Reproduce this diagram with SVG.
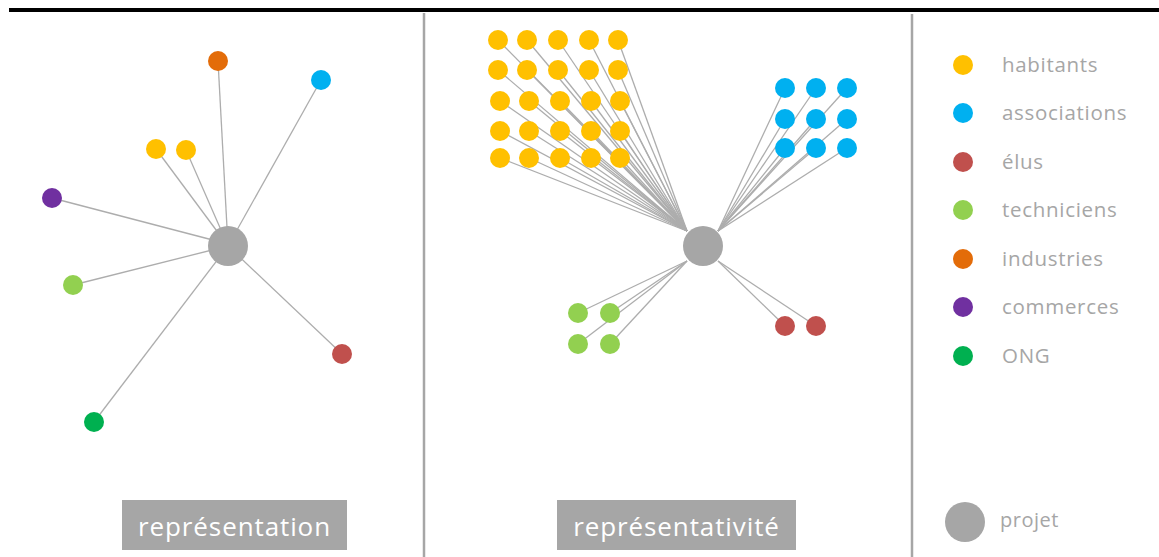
<svg xmlns="http://www.w3.org/2000/svg" width="1159" height="557" viewBox="0 0 1159 557">
<style>
.hab{fill:#FFC000}.ass{fill:#00B0F0}.elu{fill:#C0504D}.tec{fill:#92D050}.ind{fill:#E36C09}.com{fill:#7030A0}.ong{fill:#00B050}.prj{fill:#A6A6A6}
.edge{stroke:#ADADAD;stroke-width:1.3;fill:none}
.sep{stroke:#A6A6A6;stroke-width:2.5}
.leg{font-family:"Open Sans","Liberation Sans",sans-serif;font-size:20.5px;letter-spacing:0.7px;fill:#A6A6A6}
.lbl{font-family:"Open Sans","Liberation Sans",sans-serif;font-size:26px;letter-spacing:0.9px;fill:#FFFFFF;text-anchor:middle}
</style>
<rect x="9" y="8" width="1150" height="4" fill="#000"/>
<line class="sep" x1="424" y1="13" x2="424" y2="557"/>
<line class="sep" x1="912" y1="14" x2="912" y2="557"/>

<g id="connectors">
  <!-- left panel -->
  <line class="edge" x1="218" y1="61" x2="228" y2="246"/>
  <line class="edge" x1="321" y1="80" x2="228" y2="246"/>
  <line class="edge" x1="156" y1="149" x2="228" y2="246"/>
  <line class="edge" x1="186" y1="150" x2="228" y2="246"/>
  <line class="edge" x1="52" y1="198" x2="228" y2="244"/>
  <line class="edge" x1="73" y1="285" x2="228" y2="246"/>
  <line class="edge" x1="342" y1="354" x2="228" y2="246"/>
  <line class="edge" x1="94" y1="422" x2="228" y2="246"/>
  <!-- middle panel: habitants -->
  <g>
    <line class="edge" x1="498" y1="40" x2="687" y2="231"/>
    <line class="edge" x1="527" y1="40" x2="687" y2="231"/>
    <line class="edge" x1="558" y1="40" x2="687" y2="231"/>
    <line class="edge" x1="589" y1="40" x2="687" y2="231"/>
    <line class="edge" x1="618" y1="40" x2="687" y2="231"/>
    <line class="edge" x1="498" y1="70" x2="687" y2="231"/>
    <line class="edge" x1="527" y1="70" x2="687" y2="231"/>
    <line class="edge" x1="558" y1="70" x2="687" y2="231"/>
    <line class="edge" x1="589" y1="70" x2="687" y2="231"/>
    <line class="edge" x1="618" y1="70" x2="687" y2="231"/>
    <line class="edge" x1="500" y1="101" x2="687" y2="231"/>
    <line class="edge" x1="529" y1="101" x2="687" y2="231"/>
    <line class="edge" x1="560" y1="101" x2="687" y2="231"/>
    <line class="edge" x1="591" y1="101" x2="687" y2="231"/>
    <line class="edge" x1="620" y1="101" x2="687" y2="231"/>
    <line class="edge" x1="500" y1="131" x2="687" y2="231"/>
    <line class="edge" x1="529" y1="131" x2="687" y2="231"/>
    <line class="edge" x1="560" y1="131" x2="687" y2="231"/>
    <line class="edge" x1="591" y1="131" x2="687" y2="231"/>
    <line class="edge" x1="620" y1="131" x2="687" y2="231"/>
    <line class="edge" x1="500" y1="158" x2="687" y2="231"/>
    <line class="edge" x1="529" y1="158" x2="687" y2="231"/>
    <line class="edge" x1="560" y1="158" x2="687" y2="231"/>
    <line class="edge" x1="591" y1="158" x2="687" y2="231"/>
    <line class="edge" x1="620" y1="158" x2="687" y2="231"/>
  </g>
  <!-- associations -->
  <g>
    <line class="edge" x1="785" y1="88" x2="718" y2="231"/>
    <line class="edge" x1="816" y1="88" x2="718" y2="231"/>
    <line class="edge" x1="847" y1="88" x2="718" y2="231"/>
    <line class="edge" x1="785" y1="119" x2="718" y2="231"/>
    <line class="edge" x1="816" y1="119" x2="718" y2="231"/>
    <line class="edge" x1="847" y1="119" x2="718" y2="231"/>
    <line class="edge" x1="785" y1="148" x2="718" y2="231"/>
    <line class="edge" x1="816" y1="148" x2="718" y2="231"/>
    <line class="edge" x1="847" y1="148" x2="718" y2="231"/>
  </g>
  <!-- techniciens -->
  <line class="edge" x1="578" y1="313" x2="687" y2="261"/>
  <line class="edge" x1="610" y1="313" x2="687" y2="261"/>
  <line class="edge" x1="578" y1="344" x2="687" y2="261"/>
  <line class="edge" x1="610" y1="344" x2="687" y2="261"/>
  <!-- élus -->
  <line class="edge" x1="785" y1="326" x2="718" y2="261"/>
  <line class="edge" x1="816" y1="326" x2="718" y2="261"/>
</g>

<!-- left panel nodes -->
<g id="rep-projet"><circle class="prj" cx="228" cy="246" r="20"/></g>
<g id="rep-industries"><circle class="ind" cx="218" cy="61" r="10"/></g>
<g id="rep-associations"><circle class="ass" cx="321" cy="80" r="10"/></g>
<g id="rep-habitant-1"><circle class="hab" cx="156" cy="149" r="10"/></g>
<g id="rep-habitant-2"><circle class="hab" cx="186" cy="150" r="10"/></g>
<g id="rep-commerces"><circle class="com" cx="52" cy="198" r="10"/></g>
<g id="rep-techniciens"><circle class="tec" cx="73" cy="285" r="10"/></g>
<g id="rep-elus"><circle class="elu" cx="342" cy="354" r="10"/></g>
<g id="rep-ong"><circle class="ong" cx="94" cy="422" r="10"/></g>

<!-- middle panel nodes -->
<g id="rpt-projet"><circle class="prj" cx="703" cy="246" r="20"/></g>
<g id="rpt-habitants">
  <g id="hab-1-1"><circle class="hab" cx="498" cy="40" r="10"/></g>
  <g id="hab-1-2"><circle class="hab" cx="527" cy="40" r="10"/></g>
  <g id="hab-1-3"><circle class="hab" cx="558" cy="40" r="10"/></g>
  <g id="hab-1-4"><circle class="hab" cx="589" cy="40" r="10"/></g>
  <g id="hab-1-5"><circle class="hab" cx="618" cy="40" r="10"/></g>
  <g id="hab-2-1"><circle class="hab" cx="498" cy="70" r="10"/></g>
  <g id="hab-2-2"><circle class="hab" cx="527" cy="70" r="10"/></g>
  <g id="hab-2-3"><circle class="hab" cx="558" cy="70" r="10"/></g>
  <g id="hab-2-4"><circle class="hab" cx="589" cy="70" r="10"/></g>
  <g id="hab-2-5"><circle class="hab" cx="618" cy="70" r="10"/></g>
  <g id="hab-3-1"><circle class="hab" cx="500" cy="101" r="10"/></g>
  <g id="hab-3-2"><circle class="hab" cx="529" cy="101" r="10"/></g>
  <g id="hab-3-3"><circle class="hab" cx="560" cy="101" r="10"/></g>
  <g id="hab-3-4"><circle class="hab" cx="591" cy="101" r="10"/></g>
  <g id="hab-3-5"><circle class="hab" cx="620" cy="101" r="10"/></g>
  <g id="hab-4-1"><circle class="hab" cx="500" cy="131" r="10"/></g>
  <g id="hab-4-2"><circle class="hab" cx="529" cy="131" r="10"/></g>
  <g id="hab-4-3"><circle class="hab" cx="560" cy="131" r="10"/></g>
  <g id="hab-4-4"><circle class="hab" cx="591" cy="131" r="10"/></g>
  <g id="hab-4-5"><circle class="hab" cx="620" cy="131" r="10"/></g>
  <g id="hab-5-1"><circle class="hab" cx="500" cy="158" r="10"/></g>
  <g id="hab-5-2"><circle class="hab" cx="529" cy="158" r="10"/></g>
  <g id="hab-5-3"><circle class="hab" cx="560" cy="158" r="10"/></g>
  <g id="hab-5-4"><circle class="hab" cx="591" cy="158" r="10"/></g>
  <g id="hab-5-5"><circle class="hab" cx="620" cy="158" r="10"/></g>
</g>
<g id="rpt-associations">
  <g id="ass-1-1"><circle class="ass" cx="785" cy="88" r="10"/></g>
  <g id="ass-1-2"><circle class="ass" cx="816" cy="88" r="10"/></g>
  <g id="ass-1-3"><circle class="ass" cx="847" cy="88" r="10"/></g>
  <g id="ass-2-1"><circle class="ass" cx="785" cy="119" r="10"/></g>
  <g id="ass-2-2"><circle class="ass" cx="816" cy="119" r="10"/></g>
  <g id="ass-2-3"><circle class="ass" cx="847" cy="119" r="10"/></g>
  <g id="ass-3-1"><circle class="ass" cx="785" cy="148" r="10"/></g>
  <g id="ass-3-2"><circle class="ass" cx="816" cy="148" r="10"/></g>
  <g id="ass-3-3"><circle class="ass" cx="847" cy="148" r="10"/></g>
</g>
<g id="rpt-techniciens">
  <g id="tec-1"><circle class="tec" cx="578" cy="313" r="10"/></g>
  <g id="tec-2"><circle class="tec" cx="610" cy="313" r="10"/></g>
  <g id="tec-3"><circle class="tec" cx="578" cy="344" r="10"/></g>
  <g id="tec-4"><circle class="tec" cx="610" cy="344" r="10"/></g>
</g>
<g id="rpt-elus">
  <g id="elu-1"><circle class="elu" cx="785" cy="326" r="10"/></g>
  <g id="elu-2"><circle class="elu" cx="816" cy="326" r="10"/></g>
</g>

<!-- panel labels -->
<g id="label-representation">
  <rect x="122" y="500" width="225" height="50" fill="#A6A6A6"/>
  <text class="lbl" x="234.5" y="536">représentation</text>
</g>
<g id="label-representativite">
  <rect x="557" y="500" width="239" height="50" fill="#A6A6A6"/>
  <text class="lbl" x="676.5" y="536">représentativité</text>
</g>

<!-- legend -->
<g id="legend">
  <g id="leg-habitants"><circle class="hab" cx="963" cy="65" r="10"/><text class="leg" x="1002" y="72">habitants</text></g>
  <g id="leg-associations"><circle class="ass" cx="963" cy="113" r="10"/><text class="leg" x="1002" y="120">associations</text></g>
  <g id="leg-elus"><circle class="elu" cx="963" cy="162" r="10"/><text class="leg" x="1002" y="169">élus</text></g>
  <g id="leg-techniciens"><circle class="tec" cx="963" cy="210" r="10"/><text class="leg" x="1002" y="217">techniciens</text></g>
  <g id="leg-industries"><circle class="ind" cx="963" cy="259" r="10"/><text class="leg" x="1002" y="266">industries</text></g>
  <g id="leg-commerces"><circle class="com" cx="963" cy="307" r="10"/><text class="leg" x="1002" y="314">commerces</text></g>
  <g id="leg-ong"><circle class="ong" cx="963" cy="356" r="10"/><text class="leg" x="1002" y="363">ONG</text></g>
  <g id="leg-projet"><circle class="prj" cx="965" cy="522" r="20"/><text class="leg" x="1000" y="527" style="font-size:20px;letter-spacing:0.5px">projet</text></g>
</g>
</svg>
